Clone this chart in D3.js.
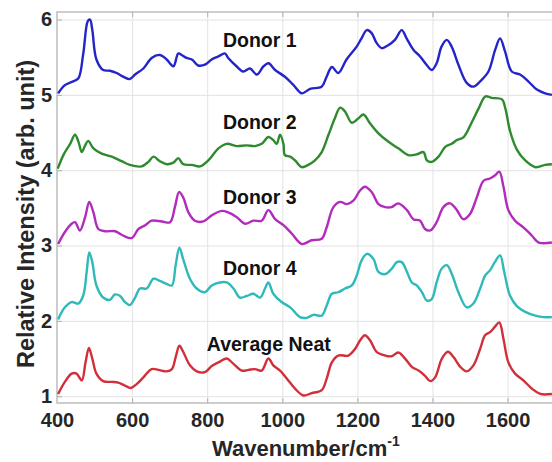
<!DOCTYPE html>
<html>
<head>
<meta charset="utf-8">
<script src="https://cdn.jsdelivr.net/npm/d3@7"></script>
<style>
  html, body { margin: 0; padding: 0; background: #fff; }
  svg { display: block; }
  text { font-family: Arial, "Liberation Sans", sans-serif; font-weight: bold; }
</style>
</head>
<body>
<svg id="chart" width="552" height="462"></svg>
<script>
// Raman spectra, each series offset by one unit; [wavenumber, intensity]
const donor1 = [[403,5.02],[421,5.13],[443,5.18],[457,5.22],[470,5.55],[482,5.98],[488,6.0],[494,5.86],[505,5.47],[523,5.33],[541,5.32],[559,5.29],[577,5.24],[594,5.21],[608,5.27],[630,5.35],[652,5.49],[674,5.53],[692,5.47],[710,5.38],[723,5.55],[732,5.53],[745,5.49],[759,5.47],[776,5.39],[794,5.40],[812,5.47],[830,5.51],[847,5.55],[856,5.49],[878,5.38],[896,5.31],[914,5.35],[932,5.27],[950,5.38],[963,5.42],[981,5.33],[1007,5.24],[1030,5.13],[1052,5.02],[1074,5.08],[1105,5.11],[1118,5.24],[1132,5.37],[1149,5.29],[1171,5.47],[1198,5.64],[1211,5.75],[1225,5.86],[1238,5.82],[1251,5.69],[1265,5.62],[1282,5.66],[1300,5.73],[1318,5.86],[1331,5.75],[1349,5.60],[1367,5.51],[1384,5.40],[1398,5.33],[1411,5.42],[1424,5.64],[1438,5.73],[1451,5.64],[1469,5.40],[1491,5.16],[1509,5.11],[1527,5.18],[1549,5.31],[1567,5.60],[1580,5.75],[1593,5.58],[1611,5.31],[1633,5.27],[1655,5.18],[1678,5.07],[1700,5.02],[1718,5.0]];

const donor2 = [[402,4.02],[417,4.2],[435,4.35],[448,4.47],[457,4.38],[466,4.24],[475,4.33],[483,4.39],[497,4.29],[519,4.22],[546,4.18],[572,4.12],[594,4.07],[625,4.05],[643,4.11],[657,4.18],[674,4.12],[692,4.08],[710,4.10],[723,4.16],[736,4.08],[759,4.07],[781,4.05],[803,4.13],[830,4.29],[852,4.35],[878,4.32],[905,4.33],[927,4.32],[945,4.35],[963,4.44],[976,4.40],[985,4.35],[994,4.47],[1003,4.35],[1007,4.2],[1021,4.18],[1034,4.13],[1052,4.04],[1069,4.07],[1087,4.13],[1105,4.24],[1123,4.47],[1140,4.69],[1154,4.83],[1167,4.78],[1185,4.63],[1203,4.69],[1216,4.74],[1234,4.62],[1256,4.49],[1282,4.38],[1309,4.29],[1336,4.20],[1358,4.21],[1376,4.24],[1385,4.13],[1398,4.11],[1416,4.18],[1434,4.31],[1451,4.35],[1465,4.40],[1483,4.44],[1505,4.64],[1523,4.82],[1541,4.98],[1558,4.96],[1585,4.94],[1594,4.82],[1607,4.51],[1625,4.27],[1647,4.13],[1674,4.04],[1700,4.07],[1718,4.08]];

const donor3 = [[403,3.02],[421,3.18],[439,3.29],[448,3.31],[461,3.20],[475,3.38],[486,3.58],[497,3.44],[510,3.22],[528,3.19],[555,3.19],[577,3.13],[599,3.10],[617,3.22],[635,3.27],[652,3.33],[679,3.32],[701,3.31],[714,3.51],[725,3.71],[736,3.64],[750,3.44],[767,3.33],[790,3.32],[812,3.40],[839,3.46],[856,3.44],[878,3.38],[901,3.29],[923,3.33],[945,3.33],[963,3.47],[981,3.35],[1003,3.27],[1025,3.16],[1052,3.02],[1078,3.07],[1105,3.09],[1118,3.24],[1136,3.51],[1154,3.58],[1172,3.55],[1190,3.60],[1207,3.73],[1220,3.78],[1238,3.71],[1256,3.55],[1274,3.51],[1291,3.51],[1309,3.56],[1332,3.47],[1349,3.35],[1367,3.33],[1380,3.22],[1394,3.20],[1411,3.31],[1429,3.51],[1447,3.56],[1465,3.47],[1482,3.35],[1500,3.42],[1518,3.64],[1536,3.86],[1553,3.89],[1566,3.93],[1578,3.98],[1589,3.78],[1602,3.47],[1620,3.33],[1642,3.24],[1665,3.13],[1683,3.04],[1718,3.04]];

const donor4 = [[403,2.02],[421,2.18],[439,2.25],[457,2.23],[470,2.34],[479,2.65],[486,2.91],[494,2.78],[505,2.47],[523,2.31],[541,2.28],[554,2.35],[568,2.33],[581,2.25],[594,2.21],[608,2.31],[621,2.43],[639,2.43],[657,2.56],[674,2.53],[692,2.49],[706,2.47],[716,2.74],[726,2.97],[736,2.82],[754,2.56],[772,2.43],[794,2.38],[812,2.47],[834,2.51],[852,2.51],[870,2.43],[887,2.31],[905,2.33],[923,2.36],[941,2.31],[954,2.43],[963,2.51],[976,2.36],[998,2.25],[1021,2.18],[1047,2.05],[1065,2.04],[1083,2.08],[1105,2.07],[1118,2.20],[1132,2.36],[1149,2.38],[1167,2.43],[1185,2.47],[1198,2.60],[1211,2.80],[1225,2.89],[1243,2.82],[1256,2.65],[1274,2.62],[1291,2.69],[1305,2.78],[1318,2.78],[1332,2.65],[1345,2.51],[1358,2.47],[1372,2.38],[1385,2.27],[1398,2.29],[1411,2.51],[1424,2.69],[1438,2.74],[1451,2.63],[1469,2.38],[1491,2.18],[1509,2.23],[1527,2.43],[1540,2.60],[1553,2.67],[1566,2.78],[1580,2.87],[1591,2.65],[1606,2.34],[1624,2.20],[1647,2.12],[1674,2.07],[1696,2.05],[1718,2.05]];

const averageNeat = [[403,1.03],[421,1.19],[439,1.30],[452,1.30],[466,1.21],[476,1.45],[485,1.64],[494,1.50],[505,1.30],[523,1.20],[546,1.19],[563,1.18],[581,1.14],[597,1.11],[612,1.16],[630,1.25],[652,1.36],[670,1.35],[692,1.33],[706,1.36],[717,1.54],[726,1.67],[736,1.59],[754,1.41],[772,1.33],[794,1.32],[812,1.40],[834,1.46],[852,1.50],[870,1.43],[892,1.34],[910,1.35],[927,1.36],[945,1.34],[963,1.50],[976,1.41],[994,1.34],[1016,1.21],[1034,1.10],[1056,1.01],[1078,1.04],[1105,1.08],[1118,1.23],[1132,1.45],[1149,1.54],[1176,1.54],[1194,1.63],[1207,1.74],[1220,1.81],[1234,1.74],[1251,1.59],[1274,1.54],[1291,1.53],[1309,1.58],[1327,1.50],[1345,1.39],[1363,1.34],[1380,1.27],[1394,1.20],[1407,1.25],[1425,1.50],[1441,1.59],[1456,1.52],[1474,1.39],[1491,1.33],[1509,1.41],[1527,1.63],[1540,1.81],[1553,1.85],[1566,1.92],[1578,1.98],[1589,1.76],[1602,1.45],[1620,1.30],[1642,1.21],[1665,1.10],[1687,1.03],[1718,1.03]];

const seriesNames = ["Donor 1", "Donor 2", "Donor 3", "Donor 4", "Average Neat"];
const seriesColors = ["#2424c8", "#2f8a2f", "#b22cbc", "#2fb9b9", "#d1303a"];
const seriesData = [donor1, donor2, donor3, donor4, averageNeat];
// label anchor: [wavenumber, intensity] at the start of each text baseline
const labelPos = [[842, 5.64], [842, 4.55], [842, 3.553], [842, 2.603], [799, 1.605]];

const xTicks = [400, 600, 800, 1000, 1200, 1400, 1600];
const yTicks = [1, 2, 3, 4, 5, 6];

const svg = d3.select("#chart");
const plotLeft = 57, plotTop = 12, plotRight = 552, plotBottom = 403;

const x = d3.scaleLinear().domain([400, 1720]).range([plotLeft, plotLeft + 1320 * 0.3755]);
const y = d3.scaleLinear().domain([0.91, 6.1]).range([plotBottom, plotTop]);

svg.append("defs").append("clipPath").attr("id", "plotClip")
  .append("rect").attr("x", plotLeft).attr("y", plotTop)
  .attr("width", plotRight - plotLeft).attr("height", plotBottom - plotTop);

// grid lines
svg.append("g")
  .attr("transform", `translate(0,${plotBottom})`)
  .call(d3.axisBottom(x).tickValues(xTicks.slice(1)).tickSize(-(plotBottom - plotTop)).tickFormat(""))
  .call(g => g.select(".domain").remove())
  .call(g => g.selectAll("line").attr("stroke", "#e3e3e3").attr("stroke-width", 1));
svg.append("g")
  .attr("transform", `translate(${plotLeft},0)`)
  .call(d3.axisLeft(y).tickValues(yTicks).tickSize(-(plotRight - plotLeft)).tickFormat(""))
  .call(g => g.select(".domain").remove())
  .call(g => g.selectAll("line").attr("stroke", "#e3e3e3").attr("stroke-width", 1));

// frame
svg.append("path")
  .attr("d", `M${plotRight},${plotTop}H${plotLeft}V${plotBottom}H${plotRight}`)
  .attr("fill", "none").attr("stroke", "#bdbdbd").attr("stroke-width", 1.5);

// inner ticks on top, bottom and left edges
svg.append("g")
  .attr("transform", `translate(0,${plotTop})`)
  .call(d3.axisTop(x).tickValues(xTicks.slice(1)).tickSize(-5).tickFormat(""))
  .call(g => g.select(".domain").remove())
  .call(g => g.selectAll("line").attr("stroke", "#b0b0b0"));
svg.append("g")
  .attr("transform", `translate(0,${plotBottom})`)
  .call(d3.axisBottom(x).tickValues(xTicks.slice(1)).tickSize(-5).tickFormat(""))
  .call(g => g.select(".domain").remove())
  .call(g => g.selectAll("line").attr("stroke", "#b0b0b0"));
svg.append("g")
  .attr("transform", `translate(${plotLeft},0)`)
  .call(d3.axisLeft(y).tickValues(yTicks).tickSize(-5).tickFormat(""))
  .call(g => g.select(".domain").remove())
  .call(g => g.selectAll("line").attr("stroke", "#b0b0b0"));

// tick labels
svg.append("g")
  .attr("transform", `translate(0,${plotBottom})`)
  .call(d3.axisBottom(x).tickValues(xTicks).tickSize(0).tickPadding(10).tickFormat(d3.format("d")))
  .call(g => g.select(".domain").remove())
  .call(g => g.selectAll("text").attr("font-size", 20).attr("fill", "#262626")
    .style("font-family", "Arial, 'Liberation Sans', sans-serif").style("font-weight", "bold"));
svg.append("g")
  .attr("transform", `translate(${plotLeft},0)`)
  .call(d3.axisLeft(y).tickValues(yTicks).tickSize(0).tickPadding(5).tickFormat(d3.format("d")))
  .call(g => g.select(".domain").remove())
  .call(g => g.selectAll("text").attr("font-size", 20).attr("fill", "#262626")
    .style("font-family", "Arial, 'Liberation Sans', sans-serif").style("font-weight", "bold"));

// spectra
const line = d3.line()
  .x(d => x(d[0]))
  .y(d => y(d[1]))
  .curve(d3.curveCatmullRom.alpha(0.5));

const plot = svg.append("g").attr("clip-path", "url(#plotClip)");
plot.selectAll("path.spectrum")
  .data(seriesData)
  .join("path")
  .attr("class", "spectrum")
  .attr("d", line)
  .attr("fill", "none")
  .attr("stroke", (d, i) => seriesColors[i])
  .attr("stroke-width", 2.4)
  .attr("stroke-linejoin", "round");

// series labels
svg.append("g").selectAll("text")
  .data(seriesNames)
  .join("text")
  .attr("x", (d, i) => x(labelPos[i][0]))
  .attr("y", (d, i) => y(labelPos[i][1]))
  .attr("font-size", 19.5)
  .attr("fill", "#111")
  .text(d => d);

// axis titles
const xTitle = svg.append("text")
  .attr("x", 212).attr("y", 456)
  .attr("font-size", 22)
  .attr("fill", "#262626");
xTitle.append("tspan").text("Wavenumber/cm");
xTitle.append("tspan").attr("dy", -10).attr("font-size", 14).text("-1");

svg.append("text")
  .attr("transform", "translate(34,214) rotate(-90)")
  .attr("text-anchor", "middle")
  .attr("font-size", 23.5)
  .attr("fill", "#262626")
  .text("Relative Intensity (arb. unit)");
</script>
</body>
</html>
